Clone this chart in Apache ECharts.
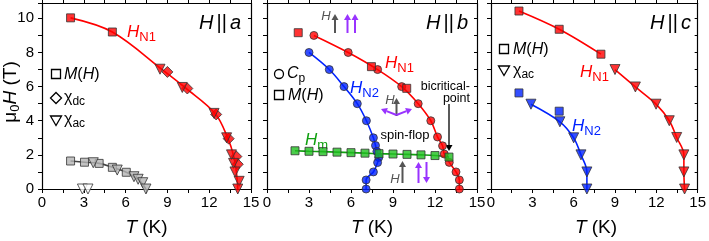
<!DOCTYPE html>
<html>
<head>
<meta charset="utf-8">
<script src="https://cdn.jsdelivr.net/npm/echarts@6/dist/echarts.min.js"></script>
<style>
  html, body { margin: 0; padding: 0; background: #fff; }
  #chart { width: 709px; height: 241px; }
</style>
</head>
<body>
<div id="chart"></div>
<script>
// tick labels
const H_LABELS = [0, 2, 4, 6, 8, 10];
const T_LABELS = [0, 3, 6, 9, 12, 15];

// H || a  (T in K, mu0H in T)
const aN1Squares = [[2.05, 10.03], [5.05, 9.2]];
const aN1Diamonds = [[9.0, 6.86], [10.43, 5.89], [12.5, 4.37], [13.4, 2.95], [13.95, 1.9], [14.05, 1.45]];
const aN1Triangles = [[8.47, 7.02], [10.07, 5.95], [12.35, 4.43], [13.25, 3.0], [13.6, 2.0], [13.75, 1.5], [13.85, 1.0], [14.15, 0.45], [14.05, 0]];
const aN1Curve = [[2.05, 10.03], [5.05, 9.2], [8.7, 6.95], [10.3, 5.92], [12.45, 4.4], [13.35, 2.95], [13.75, 1.95], [13.95, 1.0], [14.05, 0]];
const aLowSquares = [[2.05, 1.64], [3.05, 1.57], [4.1, 1.5], [5.05, 1.27], [6.05, 0.98]];
const aLowTriangles = [[3.68, 1.54], [5.4, 1.11], [6.6, 0.72], [6.9, 0.57], [7.23, 0.37], [7.46, 0]];
const aLowCurve = [[2.05, 1.64], [3.05, 1.57], [4.1, 1.5], [5.05, 1.27], [6.05, 0.98], [6.6, 0.72], [7.0, 0.5], [7.46, 0]];
const aZeroTriangles = [[2.9, 0], [3.3, 0]];

// H || b
const bN1Circles = [[3.35, 9.0], [5.8, 8.0], [7.9, 7.0], [9.62, 6.0], [10.8, 5.0], [11.7, 4.0], [12.18, 3.05], [12.54, 2.53], [12.66, 2.05], [13.02, 1.56], [13.5, 1.0], [13.74, 0.53], [13.74, 0]];
const bN1Squares = [[2.23, 9.16], [7.46, 7.17], [9.98, 5.9]];
const bN2Circles = [[3.0, 8.0], [4.45, 7.0], [5.5, 6.0], [6.45, 5.0], [7.1, 4.0], [7.6, 3.0], [7.75, 2.55], [7.85, 2.2], [7.98, 1.85], [7.9, 1.55], [7.6, 1.0], [7.08, 0.53], [7.08, 0]];
const bHmSquares = [[2, 2.24], [3, 2.21], [4, 2.19], [5, 2.16], [6, 2.13], [7, 2.1], [8, 2.07], [9, 2.05], [10, 2.03], [11, 2.0], [12, 1.96], [13, 1.87]];

// H || c
const cN1Squares = [[2.03, 10.43], [4.95, 9.36], [7.98, 7.9]];
const cN1Triangles = [[9.0, 7.0], [10.48, 5.98], [11.98, 4.97], [12.94, 4.0], [13.48, 3.02], [14.0, 2.0], [14.0, 1.0], [14.05, 0]];
const cN2Squares = [[2.03, 5.63], [4.95, 4.56]];
const cN2Triangles = [[2.9, 4.97], [5.0, 3.94], [6.0, 3.0], [6.53, 2.0], [6.96, 1.0], [6.96, 0]];

const FONT = '"Liberation Sans", Arial, sans-serif';
const RED = '#ff0000', BLUE = '#0022ff', GREEN = '#1fbf1f', GREY = '#b4b4b4';
const PURPLE = '#9933ff', DGREY = '#555555';

const GRIDS = [
  { left: 42, top: 3, width: 209, height: 186 },
  { left: 267, top: 3, width: 210, height: 186 },
  { left: 491, top: 3, width: 210, height: 186 }
];

const chart = echarts.init(document.getElementById('chart'));

function xAx(i, pos) {
  return {
    type: 'value', gridIndex: i, position: pos, min: 0, max: 15, interval: 1.5,
    axisLine: { show: true, onZero: false, lineStyle: { color: '#000', width: 1.2 } },
    axisTick: { show: true, inside: false, length: pos === 'top' ? 3 : 4, lineStyle: { color: '#000', width: 1 } },
    axisLabel: {
      show: pos === 'bottom', margin: 6, fontSize: 15, fontFamily: FONT, color: '#000',
      formatter: v => T_LABELS.includes(Math.round(v * 100) / 100) ? String(v) : ''
    },
    splitLine: { show: false }
  };
}
function yAx(i, pos) {
  return {
    type: 'value', gridIndex: i, position: pos, min: 0, max: 10.9, interval: 1,
    axisLine: { show: true, onZero: false, lineStyle: { color: '#000', width: 1.2 } },
    axisTick: { show: true, inside: pos === 'right', length: pos === 'right' ? 3 : 4, lineStyle: { color: '#000', width: 1 } },
    axisLabel: {
      show: pos === 'left' && i === 0, margin: 8, fontSize: 15, fontFamily: FONT, color: '#000',
      formatter: v => H_LABELS.includes(v) ? String(v) : ''
    },
    splitLine: { show: false }
  };
}

function scat(i, data, symbol, color, size, rot) {
  return {
    type: 'scatter', xAxisIndex: 2 * i, yAxisIndex: 2 * i, data: data,
    symbol: symbol, symbolSize: size, symbolRotate: rot || 0,
    itemStyle: { color: color, borderColor: '#333', borderWidth: 1 },
    z: 3, silent: true
  };
}
function curve(i, data, color) {
  return {
    type: 'line', xAxisIndex: 2 * i, yAxisIndex: 2 * i, data: data,
    smooth: 0.35, showSymbol: false, symbol: 'none',
    lineStyle: { color: color, width: 1.6 }, z: 2, silent: true
  };
}

// text made of runs (italic, subscripts) measured on a canvas
const mctx = document.createElement('canvas').getContext('2d');
function runs(x, y, parts, color, align, rotation) {
  let w = 0;
  const kids = [];
  parts.forEach(p => {
    const st = p.it ? 'italic' : 'normal';
    mctx.font = st + ' ' + p.s + 'px ' + FONT;
    kids.push({
      type: 'text', x: w, y: p.dy || 0,
      style: { text: p.t, fontSize: p.s, fontStyle: st, fontFamily: FONT, fill: p.c || color, align: 'left', verticalAlign: 'middle' }
    });
    w += mctx.measureText(p.t).width;
  });
  const shift = align === 'right' ? -w : align === 'center' ? -w / 2 : 0;
  kids.forEach(k => { k.x += shift; });
  return { type: 'group', x: x, y: y, rotation: rotation || 0, children: kids, silent: true, z: 10 };
}
function hsub(x, y, sub, color, big, small) {
  big = big || 17; small = small || 13;
  return runs(x, y, [{ t: 'H', s: big, it: true }, { t: sub, s: small, dy: 5 }], color, 'left');
}
function title(x, letter) {
  return runs(x, 23, [{ t: 'H', s: 20, it: true }, { t: ' ', s: 11 }, { t: '||', s: 20 }, { t: ' ', s: 11 }, { t: letter, s: 20, it: true }], '#000', 'right');
}
function arrow(x1, y1, x2, y2, color, w) {
  const a = Math.atan2(y2 - y1, x2 - x1), L = 6, hw = 3.5;
  const bx = x2 - L * Math.cos(a), by = y2 - L * Math.sin(a);
  return {
    type: 'group', silent: true, z: 10, children: [
      { type: 'line', shape: { x1: x1, y1: y1, x2: bx, y2: by }, style: { stroke: color, lineWidth: w || 2 } },
      { type: 'polygon', shape: { points: [[x2, y2], [bx + hw * Math.sin(a), by - hw * Math.cos(a)], [bx - hw * Math.sin(a), by + hw * Math.cos(a)]] }, style: { fill: color } }
    ]
  };
}
function openStyle() { return { fill: '#ffffff', stroke: '#000000', lineWidth: 1.3 }; }
function oSquare(cx, cy) { return { type: 'rect', z: 10, shape: { x: cx - 4.5, y: cy - 4.5, width: 9, height: 9 }, style: openStyle() }; }
function oCircle(cx, cy) { return { type: 'circle', z: 10, shape: { cx: cx, cy: cy, r: 4.5 }, style: openStyle() }; }
function oDiamond(cx, cy) { return { type: 'polygon', z: 10, shape: { points: [[cx, cy - 5.5], [cx + 5.5, cy], [cx, cy + 5.5], [cx - 5.5, cy]] }, style: openStyle() }; }
function oTri(cx, cy) { return { type: 'polygon', z: 10, shape: { points: [[cx - 5.5, cy - 4], [cx + 5.5, cy - 4], [cx, cy + 5.5]] }, style: openStyle() }; }
function mh(x, y) {
  return runs(x, y, [{ t: 'M', s: 16, it: true }, { t: '(', s: 16 }, { t: 'H', s: 16, it: true }, { t: ')', s: 16 }], '#000', 'left');
}

const graphics = [
  // axis titles
  runs(11, 92, [{ t: 'μ', s: 19 }, { t: '0', s: 13, dy: 4 }, { t: 'H', s: 19, it: true }, { t: ' (T)', s: 19 }], '#000', 'center', Math.PI / 2),
  runs(146.5, 228, [{ t: 'T', s: 19, it: true }, { t: ' (K)', s: 19 }], '#000', 'center'),
  runs(372, 228, [{ t: 'T', s: 19, it: true }, { t: ' (K)', s: 19 }], '#000', 'center'),
  runs(596, 228, [{ t: 'T', s: 19, it: true }, { t: ' (K)', s: 19 }], '#000', 'center'),
  // panel titles
  title(241, 'a'), title(468, 'b'), title(691, 'c'),
  // legends
  oSquare(56, 74), mh(64, 75),
  oDiamond(56, 98), runs(64, 98, [{ t: 'χ', s: 16 }, { t: 'dc', s: 12, dy: 4 }], '#000', 'left'),
  oTri(56, 120), runs(64, 120, [{ t: 'χ', s: 16 }, { t: 'ac', s: 12, dy: 4 }], '#000', 'left'),
  oCircle(279, 74), runs(287, 74, [{ t: 'C', s: 16, it: true }, { t: 'p', s: 12, dy: 5 }], '#000', 'left'),
  oSquare(279, 95), mh(288, 96),
  oSquare(504, 49), mh(513, 50),
  oTri(504, 70), runs(513, 71, [{ t: 'χ', s: 16 }, { t: 'ac', s: 12, dy: 4 }], '#000', 'left'),
  // curve labels
  hsub(127, 32, 'N1', RED),
  hsub(385, 63, 'N1', RED),
  hsub(350, 88, 'N2', BLUE),
  hsub(305, 140, 'm', '#10a010'),
  hsub(580, 72, 'N1', RED),
  hsub(572, 126, 'N2', BLUE),
  // spin sketches, panel b
  runs(326, 16, [{ t: 'H', s: 13, it: true }], DGREY, 'center'),
  arrow(335, 33, 335, 14, DGREY, 2),
  arrow(347.5, 33, 347.5, 14, PURPLE, 2),
  arrow(355, 33, 355, 14, PURPLE, 2),
  runs(390, 100, [{ t: 'H', s: 13, it: true }], DGREY, 'center'),
  arrow(396.5, 116, 396.5, 98, DGREY, 2),
  arrow(396.5, 115, 381, 109, PURPLE, 2),
  arrow(396.5, 115, 412, 109, PURPLE, 2),
  runs(405, 135, [{ t: 'spin-flop', s: 13 }], '#000', 'center'),
  runs(470, 87, [{ t: 'bicritical-', s: 12.5 }], '#000', 'right'),
  runs(470, 99, [{ t: 'point', s: 12.5 }], '#000', 'right'),
  arrow(449, 104, 449, 151, '#000', 1.3),
  runs(395, 179, [{ t: 'H', s: 13, it: true }], DGREY, 'center'),
  arrow(402.5, 183, 402.5, 161, DGREY, 2),
  arrow(418.5, 183, 418.5, 162, PURPLE, 2),
  arrow(426.5, 162, 426.5, 183, PURPLE, 2)
];

const option = {
  animation: false,
  backgroundColor: '#fff',
  grid: GRIDS,
  xAxis: [xAx(0, 'bottom'), xAx(0, 'top'), xAx(1, 'bottom'), xAx(1, 'top'), xAx(2, 'bottom'), xAx(2, 'top')],
  yAxis: [yAx(0, 'left'), yAx(0, 'right'), yAx(1, 'left'), yAx(1, 'right'), yAx(2, 'left'), yAx(2, 'right')],
  series: [
    // H || a
    curve(0, aN1Curve, RED),
    curve(0, aLowCurve, '#444'),
    scat(0, aN1Squares, 'rect', RED, 8),
    scat(0, aN1Diamonds, 'diamond', RED, 11),
    scat(0, aN1Triangles, 'triangle', RED, 10, 180),
    scat(0, aLowSquares, 'rect', GREY, 8),
    scat(0, aLowTriangles, 'triangle', GREY, 10, 180),
    scat(0, aZeroTriangles, 'triangle', '#fff', 10, 180),
    // H || b
    curve(1, bN1Circles, RED),
    curve(1, bN2Circles, BLUE),
    curve(1, bHmSquares, '#10a010'),
    scat(1, bN1Circles, 'circle', RED, 8),
    scat(1, bN1Squares, 'rect', RED, 8),
    scat(1, bN2Circles, 'circle', BLUE, 8),
    scat(1, bHmSquares, 'rect', GREEN, 8),
    // H || c
    curve(2, cN1Squares, RED),
    curve(2, cN1Triangles, RED),
    curve(2, cN2Triangles, BLUE),
    scat(2, cN1Squares, 'rect', RED, 8),
    scat(2, cN1Triangles, 'triangle', RED, 10, 180),
    scat(2, cN2Squares, 'rect', BLUE, 8),
    scat(2, cN2Triangles, 'triangle', BLUE, 10, 180)
  ],
  graphic: graphics
};

chart.setOption(option);
</script>
</body>
</html>
